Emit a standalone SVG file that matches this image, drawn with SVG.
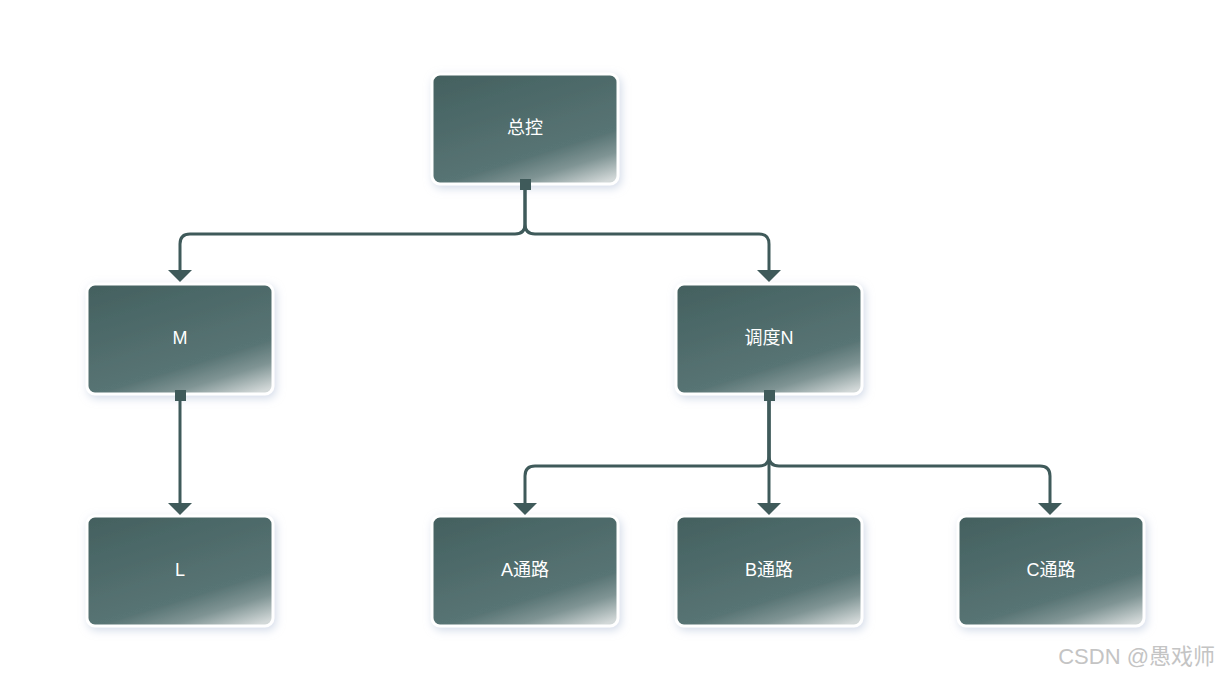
<svg xmlns="http://www.w3.org/2000/svg" width="1220" height="676" viewBox="0 0 1220 676">
<style>
.node rect{fill:url(#g);stroke:#ffffff;stroke-width:3;filter:url(#sh)}
.node text{font-family:"Liberation Sans","Noto Sans CJK SC",sans-serif;font-size:18px;fill:#ffffff;text-anchor:middle;dominant-baseline:central}
.conn path{fill:none;stroke:#3f5a5a;stroke-width:3}
.conn rect,.conn polygon{fill:#3f5a5a}
.wm{font-family:"Liberation Sans","Noto Sans CJK SC",sans-serif;font-size:22px;fill:#c4c4c4;text-anchor:end}
</style>
<defs>
<linearGradient id="g" x1="0" y1="0" x2="0.6" y2="1.15">
<stop offset="0" stop-color="#43605f"/>
<stop offset="0.7" stop-color="#587474"/>
<stop offset="0.84" stop-color="#7f9494"/>
<stop offset="1" stop-color="#d2d8d8"/>
</linearGradient>
<filter id="sh" x="-20%" y="-20%" width="140%" height="140%">
<feDropShadow dx="2" dy="3" stdDeviation="4" flood-color="#b8c4dc" flood-opacity="0.6"/>
</filter>
</defs>
<rect width="1220" height="676" fill="#ffffff"/>
<g id="n-top" class="node"><rect x="432" y="74" width="186" height="110" rx="8"/><text x="525" y="128">总控</text></g>
<g id="n-m" class="node"><rect x="87" y="284" width="186" height="110" rx="8"/><text x="180" y="338">M</text></g>
<g id="n-n" class="node"><rect x="676" y="284" width="186" height="110" rx="8"/><text x="769" y="338">调度N</text></g>
<g id="n-l" class="node"><rect x="87" y="516" width="186" height="110" rx="8"/><text x="180" y="570">L</text></g>
<g id="n-a" class="node"><rect x="432" y="516" width="186" height="110" rx="8"/><text x="525" y="570">A通路</text></g>
<g id="n-b" class="node"><rect x="676" y="516" width="186" height="110" rx="8"/><text x="769" y="570">B通路</text></g>
<g id="n-c" class="node"><rect x="958" y="516" width="186" height="110" rx="8"/><text x="1051" y="570">C通路</text></g>
<g class="conn">
<path d="M525,184 V224 Q525,234 515,234 H190 Q180,234 180,244 V270"/>
<path d="M525,184 V224 Q525,234 535,234 H759 Q769,234 769,244 V270"/>
<path d="M180,395 V503"/>
<path d="M769,395 V456 Q769,466 759,466 H535 Q525,466 525,476 V503"/>
<path d="M769,395 V503"/>
<path d="M769,395 V456 Q769,466 779,466 H1040 Q1050,466 1050,476 V503"/>
<polygon points="168,270 192,270 180,282"/>
<polygon points="757,270 781,270 769,282"/>
<polygon points="168,503 192,503 180,515"/>
<polygon points="513,503 537,503 525,515"/>
<polygon points="757,503 781,503 769,515"/>
<polygon points="1038,503 1062,503 1050,515"/>
<rect x="520" y="179" width="11" height="11"/>
<rect x="175" y="390" width="11" height="11"/>
<rect x="764" y="390" width="11" height="11"/>
</g>
<text class="wm" x="1215" y="664">CSDN @愚戏师</text>
</svg>
